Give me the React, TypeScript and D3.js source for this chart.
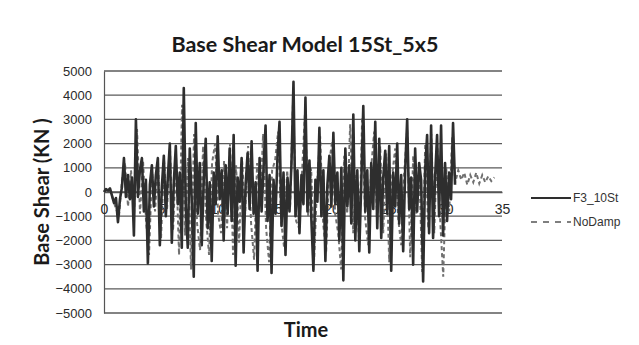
import React, { useRef, useEffect } from 'react';
import * as d3 from 'd3';

const W = 639;
const H = 345;

const title = 'Base Shear Model 15St_5x5';
const yTitle = 'Base Shear (KN )';
const xTitle = 'Time';

const yTicks = [5000, 4000, 3000, 2000, 1000, 0, -1000, -2000, -3000, -4000, -5000];
const xTicks = [0, 5, 10, 15, 20, 25, 30, 35];
const seriesNames = ['F3_10St', 'NoDamp'];

// sampled every f3Step seconds
const f3Step = 0.1754;
const f3Values = [
  0, 120, 60, 150, -150, -450, -250, -1250, -300, 200,
  1400, -200, 700, -300, 600, -1800, 3000, -200, 900, 1400,
  -800, 500, -2950, 300, 1100, -600, 700, 1400, -2200, 200,
  1500, -1000, 600, 2000, -2100, 400, 1900, -500, 800, -2300,
  4300, -600, -2300, 1800, -400, -3500, 2850, -900, 1200, -2200,
  500, 2200, -1500, 400, -2850, 800, -500, 2300, -300, 900,
  -2000, 1100, -900, 1800, -1200, 2350, -3050, 600, -400, 1400,
  -2500, 300, 1600, -700, 2100, -900, 400, -3250, 1400, -800,
  1000, 2750, -1200, 700, -3350, 500, -900, 1500, 2900, -1400,
  800, -2600, 600, -800, 1200, 4550, -1000, 900, -1700, 700,
  -500, 3900, -800, 1300, -1200, -3250, 500, -400, 2650, -1000,
  900, -2850, 300, 1500, -600, 2450, -500, 800, -2000, 1000,
  -3650, 1800, -600, 1100, -1300, 3200, -2000, 900, -2450, 400,
  3550, -800, 900, -2500, 1200, -700, 2900, -1500, 2200, -1900,
  600, 1700, -900, 1900, -3250, 800, -600, 2000, -1300, 700,
  -2450, 900, 3000, -700, 600, -3000, 1800, -800, 1200, 500,
  -3700, 900, 2350, -1700, 2750, -1900, 600, 2350, -1000, 2750,
  -1800, 1200, -1200, 800, -300, 2850, 300,
];

// sampled every noDampStep seconds
const noDampStep = 0.264;
const noDampValues = [
  0, 80, 100, -300, -700, -1000, 500, 1200, -600, 900,
  -1000, 2600, -900, 1300, -1200, -2600, 900, -800, 1200, -1900,
  1300, -700, 1700, -1600, 1400, -2600, 3600, -1800, 1400, -3200,
  2400, -1300, -2400, 1900, -1100, -2600, 1200, 2000, -900, -1700,
  1300, -1500, 2000, -2600, 1100, -2100, 1300, -900, 1900, -1300,
  -2800, 1200, -600, 2400, -1500, -2900, 900, 1300, 2500, -1200,
  -2300, 900, -600, 3900, -1200, -1500, 900, 3400, -1000, 1000,
  -2800, 400, 2300, -1300, -2500, 1200, 2100, -900, -1700, -3200,
  1500, -900, 2800, -1700, 700, -2200, 3100, -1100, -2200, 1000,
  2500, -1300, 1900, -1700, 1600, -2900, 700, 1800, -1100, -2200,
  800, 2600, -2700, 1500, -900, 1000, -3300, 2000, -1500, 2400,
  -1700, 2000, -1200, -3500, 1000, -800, 2300, 400, 900, 500,
  800, 300, 700, 400, 800, 350, 700, 400, 650, 450, 600,
];

const titleFont = "Lato, 'Open Sans', sans-serif";
const tickFont = "'Liberation Sans Narrow', 'Arial Narrow', 'Liberation Sans', sans-serif";

const App = () => {
  const svgRef = useRef(null);

  useEffect(() => {
    const svg = d3.select(svgRef.current);
    svg.selectAll('*').remove();

    const plot = { left: 104, right: 502, top: 71, bottom: 313 };

    const x = d3.scaleLinear().domain([0, 35]).range([plot.left, plot.right]);
    const y = d3.scaleLinear().domain([-5000, 5000]).range([plot.bottom, plot.top]);

    svg.append('rect').attr('width', W).attr('height', H).attr('fill', '#fff');

    // gridlines
    svg.append('g')
      .selectAll('line')
      .data(yTicks)
      .enter()
      .append('line')
      .attr('x1', plot.left)
      .attr('x2', plot.right)
      .attr('y1', d => y(d))
      .attr('y2', d => y(d))
      .attr('stroke', '#5a5a5a')
      .attr('stroke-width', 1.3);

    // y axis
    const yAxis = d3.axisLeft(y).tickValues(yTicks).tickSize(0).tickPadding(12).tickFormat(d3.format('d'));
    const yg = svg.append('g').attr('transform', `translate(${plot.left},0)`).call(yAxis);
    yg.select('.domain').attr('stroke', '#555').attr('stroke-width', 1.2);
    yg.selectAll('text').style('font-family', tickFont).style('font-size', '13px').style('fill', '#2a2a2a');

    // x axis on the zero line
    const xAxis = d3.axisBottom(x).tickValues(xTicks).tickSize(0).tickPadding(12).tickFormat(d3.format('d'));
    const xg = svg.append('g').attr('transform', `translate(0,${y(0)})`).call(xAxis);
    xg.select('.domain').attr('stroke', '#555').attr('stroke-width', 1.3);
    xg.selectAll('text').style('font-family', tickFont).style('font-size', '14px').style('fill', '#2a2a2a');

    const line = d3.line().x(d => x(d[0])).y(d => y(d[1]));

    const noDamp = noDampValues.map((v, i) => [i * noDampStep, v]);
    const f3 = f3Values.map((v, i) => [i * f3Step, v]);

    svg.append('path')
      .datum(noDamp)
      .attr('d', line)
      .attr('fill', 'none')
      .attr('stroke', '#707070')
      .attr('stroke-width', 2)
      .attr('stroke-dasharray', '4,3');

    svg.append('path')
      .datum(f3)
      .attr('d', line)
      .attr('fill', 'none')
      .attr('stroke', '#2e2e2e')
      .attr('stroke-width', 2.6)
      .attr('stroke-linejoin', 'round');

    // titles
    svg.append('text')
      .attr('x', 305).attr('y', 52)
      .attr('text-anchor', 'middle')
      .style('font-family', titleFont).style('font-weight', 'bold').style('font-size', '21.5px')
      .style('fill', '#1a1a1a')
      .text(title);

    svg.append('text')
      .attr('transform', `translate(49,${y(0)}) rotate(-90)`)
      .attr('text-anchor', 'middle')
      .style('font-family', titleFont).style('font-weight', 'bold').style('font-size', '20px')
      .style('fill', '#1a1a1a')
      .text(yTitle);

    svg.append('text')
      .attr('x', 306).attr('y', 337)
      .attr('text-anchor', 'middle')
      .style('font-family', titleFont).style('font-weight', 'bold').style('font-size', '20px')
      .style('fill', '#1a1a1a')
      .text(xTitle);

    // legend
    const legend = svg.append('g').attr('transform', 'translate(531,198)');
    seriesNames.forEach((name, i) => {
      const g = legend.append('g').attr('transform', `translate(0,${i * 24})`);
      g.append('line')
        .attr('x1', 0).attr('x2', 40).attr('y1', 0).attr('y2', 0)
        .attr('stroke', i === 0 ? '#2e2e2e' : '#555')
        .attr('stroke-width', i === 0 ? 2 : 1.6)
        .attr('stroke-dasharray', i === 0 ? null : '6,6');
      g.append('text')
        .attr('x', 42).attr('y', 4)
        .style('font-family', tickFont).style('font-size', '12px').style('fill', '#333')
        .text(name);
    });
  }, []);

  return (
    <svg ref={svgRef} width={W} height={H} style={{ position: 'absolute', left: 0, top: 0, display: 'block' }} />
  );
};

export default App;
